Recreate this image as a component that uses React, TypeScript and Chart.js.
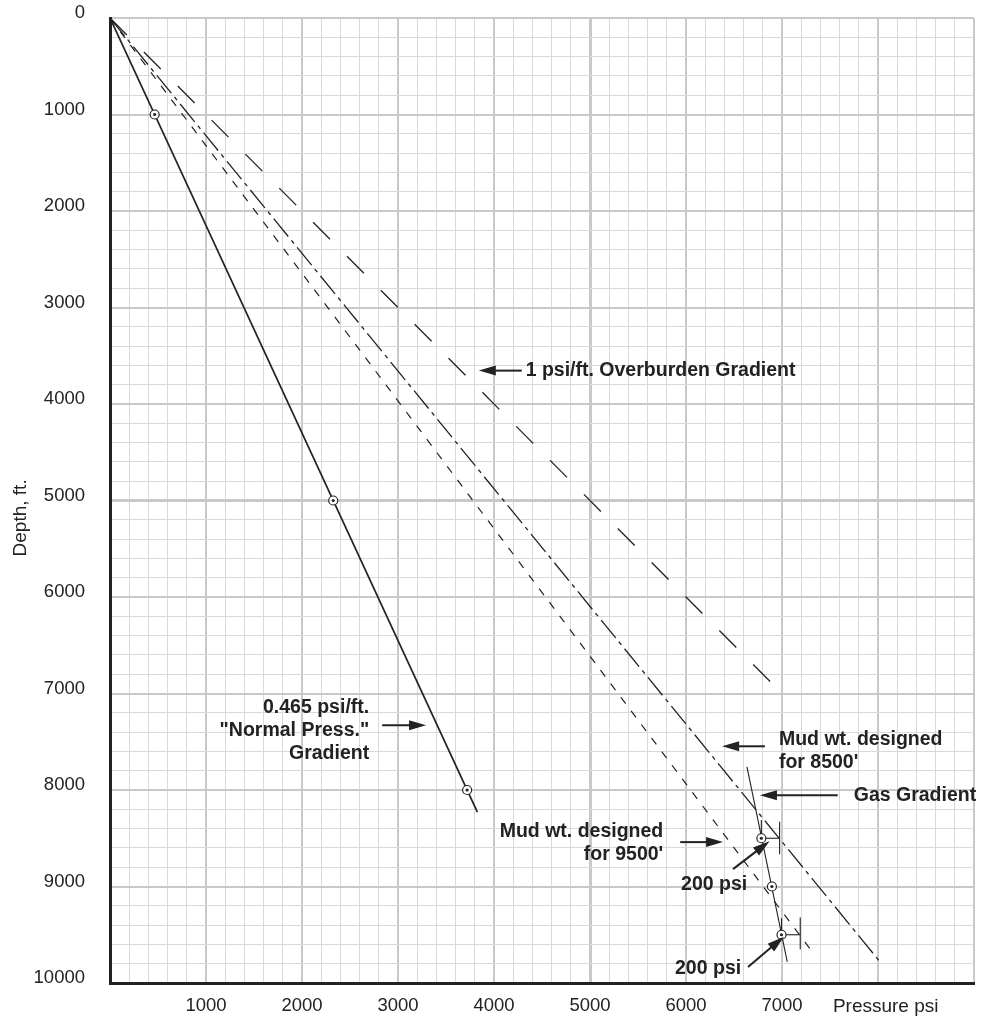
import React, { useEffect, useRef } from "react";
import { Chart, registerables } from "chart.js";
Chart.register(...registerables);

// ---------- data (pressure psi vs depth ft) ----------
const xTickValues = [1000, 2000, 3000, 4000, 5000, 6000, 7000];
const yTickValues = [0, 1000, 2000, 3000, 4000, 5000, 6000, 7000, 8000, 9000, 10000];

const normalPress = [0, 3827];
const normalDepth = [0, 8230];
const normalPtPress = [465, 2325, 3720];
const normalPtDepth = [1000, 5000, 8000];

const overburdenPress = [0, 7000];
const overburdenDepth = [0, 7000];

const mud8500Press = [0, 8016];
const mud8500Depth = [0, 9775];

const mud9500Press = [0, 7303];
const mud9500Depth = [0, 9660];

const gasPress = [6635, 7055];
const gasDepth = [7760, 9780];
const gasPtPress = [6785, 6895, 6995];
const gasPtDepth = [8500, 9000, 9500];

// 200 psi brackets
const bracketDepth = [8500, 9500];
const bracketLeftPress = [6785, 6995];
const bracketRightPress = [6975, 7190];
const bracketLeftTop = [8310, 9330];
const bracketRightTop = [8330, 9320];
const bracketRightBottom = [8665, 9650];

// annotation arrows: tail -> tip (data units)
const arrowTailPress = [4289, 2835, 6822, 7580, 5940, 6490, 6646];
const arrowTailDepth = [3654, 7329, 7547, 8054, 8540, 8820, 9834];
const arrowTipPress = [3842, 3292, 6376, 6770, 6386, 6870, 7020];
const arrowTipDepth = [3654, 7329, 7547, 8054, 8540, 8530, 9520];

// annotation texts
const noteLines = [
  ["1 psi/ft. Overburden Gradient"],
  ["0.465 psi/ft.", "\"Normal Press.\"", "Gradient"],
  ["Mud wt. designed", "for 8500'"],
  ["Gas Gradient"],
  ["Mud wt. designed", "for 9500'"],
  ["200 psi"],
  ["200 psi"],
];
const notePress = [4330, 2700, 6968, 7747, 5763, 6293, 6230];
const noteDepth = [3654, 7143, 7474, 8054, 8427, 8985, 9855];
const noteAlign = ["left", "right", "left", "left", "right", "center", "center"];

const FONT = "'Liberation Sans', Arial, Helvetica, sans-serif";
const INK = "#222";

const zip = (xs: number[], ys: number[]) => xs.map((v, i) => ({ x: v, y: ys[i] }));

function bracketSets() {
  const sets: any[] = [];
  bracketDepth.forEach((d, i) => {
    const segs = [
      [{ x: bracketLeftPress[i], y: d }, { x: bracketRightPress[i], y: d }],
      [{ x: bracketLeftPress[i], y: bracketLeftTop[i] }, { x: bracketLeftPress[i], y: d }],
      [{ x: bracketRightPress[i], y: bracketRightTop[i] }, { x: bracketRightPress[i], y: bracketRightBottom[i] }],
    ];
    segs.forEach((s) =>
      sets.push({
        data: s,
        showLine: true,
        borderColor: INK,
        borderWidth: 1.1,
        pointRadius: 0,
      })
    );
  });
  return sets;
}

const annotPlugin = {
  id: "annot",
  afterDatasetsDraw(chart: any) {
    const { ctx, scales } = chart;
    const xs = scales.x;
    const ys = scales.y;
    ctx.save();
    ctx.fillStyle = INK;
    ctx.strokeStyle = INK;
    // arrows
    arrowTailPress.forEach((_, i) => {
      const x1 = xs.getPixelForValue(arrowTailPress[i]);
      const y1 = ys.getPixelForValue(arrowTailDepth[i]);
      const x2 = xs.getPixelForValue(arrowTipPress[i]);
      const y2 = ys.getPixelForValue(arrowTipDepth[i]);
      const a = Math.atan2(y2 - y1, x2 - x1);
      const L = 17;
      const W = 5;
      const c = Math.cos(a);
      const s = Math.sin(a);
      ctx.lineWidth = 2;
      ctx.beginPath();
      ctx.moveTo(x1, y1);
      ctx.lineTo(x2 - L * 0.7 * c, y2 - L * 0.7 * s);
      ctx.stroke();
      ctx.beginPath();
      ctx.moveTo(x2, y2);
      ctx.lineTo(x2 - L * c + W * s, y2 - L * s - W * c);
      ctx.lineTo(x2 - L * c - W * s, y2 - L * s + W * c);
      ctx.closePath();
      ctx.fill();
    });
    // texts
    ctx.font = `bold 19.5px ${FONT}`;
    ctx.textBaseline = "middle";
    noteLines.forEach((lines, i) => {
      const px = xs.getPixelForValue(notePress[i]);
      const py = ys.getPixelForValue(noteDepth[i]);
      ctx.textAlign = noteAlign[i];
      lines.forEach((t, j) => ctx.fillText(t, px, py + j * 23));
    });
    // axis titles
    ctx.font = `19px ${FONT}`;
    ctx.textAlign = "center";
    ctx.fillText("Pressure psi", xs.getPixelForValue(8080), 1007);
    ctx.save();
    ctx.translate(21, ys.getPixelForValue(5180));
    ctx.rotate(-Math.PI / 2);
    ctx.fillText("Depth, ft.", 0, 0);
    ctx.restore();
    ctx.restore();
  },
};

export default function App() {
  const ref = useRef<HTMLCanvasElement>(null);
  useEffect(() => {
    document.body.style.margin = "0";
    const allPtPress = [...normalPtPress, ...gasPtPress];
    const allPtDepth = [...normalPtDepth, ...gasPtDepth];
    const gridColor = (c: any) => {
      const v = c.tick ? c.tick.value : 1;
      return v % 1000 === 0 ? "#c9c9c9" : "#d9d9d9";
    };
    const gridWidth = (c: any) => {
      const v = c.tick ? c.tick.value : 1;
      if (v === 5000) return 3;
      return v % 1000 === 0 ? 2 : 1;
    };
    const chart = new Chart(ref.current!, {
      type: "scatter",
      data: {
        datasets: [
          {
            data: zip(allPtPress, allPtDepth),
            pointRadius: 1.6,
            pointBackgroundColor: INK,
            pointBorderWidth: 0,
            showLine: false,
          },
          {
            data: zip(allPtPress, allPtDepth),
            pointRadius: 4.5,
            pointBackgroundColor: "#fff",
            pointBorderColor: INK,
            pointBorderWidth: 1.2,
            showLine: false,
          },
          ...bracketSets(),
          {
            data: zip(normalPress, normalDepth),
            showLine: true,
            borderColor: INK,
            borderWidth: 1.7,
            pointRadius: 0,
          },
          {
            data: zip(overburdenPress, overburdenDepth),
            showLine: true,
            borderColor: INK,
            borderWidth: 1.3,
            borderDash: [24, 24],
            pointRadius: 0,
          },
          {
            data: zip(mud8500Press, mud8500Depth),
            showLine: true,
            borderColor: INK,
            borderWidth: 1.3,
            borderDash: [23, 5, 4, 5],
            pointRadius: 0,
          },
          {
            data: zip(mud9500Press, mud9500Depth),
            showLine: true,
            borderColor: INK,
            borderWidth: 1.2,
            borderDash: [8, 9],
            pointRadius: 0,
          },
          {
            data: zip(gasPress, gasDepth),
            showLine: true,
            borderColor: INK,
            borderWidth: 1.1,
            pointRadius: 0,
          },
        ] as any,
      },
      options: {
        animation: false,
        responsive: false,
        events: [],
        layout: { autoPadding: false, padding: { top: 18, right: 18, left: 0, bottom: 0 } },
        plugins: { legend: { display: false }, tooltip: { enabled: false } },
        scales: {
          x: {
            type: "linear",
            min: 0,
            max: 9000,
            afterFit: (s: any) => {
              s.height = 37;
              s.paddingLeft = 0;
              s.paddingRight = 0;
            },
            grid: { color: (c: any) => (c.tick && c.tick.value === 0 ? "rgba(0,0,0,0)" : gridColor(c)), lineWidth: gridWidth, drawTicks: false },
            border: { display: true, color: INK, width: 3 },
            ticks: {
              stepSize: 200,
              autoSkip: false,
              maxRotation: 0,
              padding: 12,
              color: INK,
              font: { family: FONT, size: 18.5 },
              callback: (v: any) => (xTickValues.includes(Number(v)) ? String(v) : ""),
            },
          },
          y: {
            type: "linear",
            reverse: true,
            min: 0,
            max: 10000,
            afterFit: (s: any) => {
              s.width = 110;
              s.paddingTop = 0;
              s.paddingBottom = 0;
            },
            grid: { color: (c: any) => (c.tick && c.tick.value === 10000 ? "rgba(0,0,0,0)" : gridColor(c)), lineWidth: gridWidth, drawTicks: false },
            border: { display: true, color: INK, width: 3 },
            ticks: {
              stepSize: 200,
              autoSkip: false,
              padding: 25,
              labelOffset: -5,
              color: INK,
              font: { family: FONT, size: 18.5 },
              callback: (v: any) => (yTickValues.includes(Number(v)) ? String(v) : ""),
            },
          },
        },
      } as any,
      plugins: [annotPlugin],
    });
    return () => chart.destroy();
  }, []);
  return (
    <div style={{ width: 992, height: 1020 }}>
      <canvas ref={ref} width={992} height={1020} style={{ display: "block" }} />
    </div>
  );
}
